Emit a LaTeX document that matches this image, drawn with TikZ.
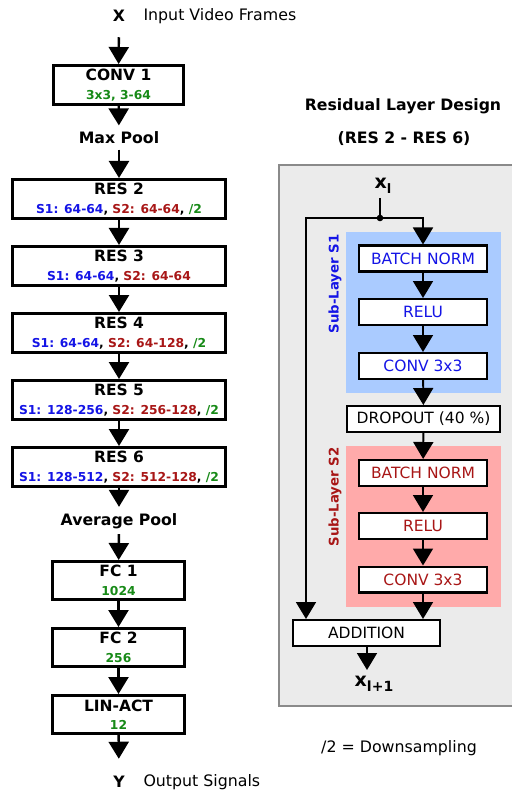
\documentclass[tikz,border=0pt]{standalone}
\usepackage{fontspec}
\setmainfont{DejaVu Sans}
\usetikzlibrary{arrows.meta}
\definecolor{tblue}{HTML}{1414E6}
\definecolor{tred}{HTML}{A81616}
\definecolor{tgreen}{HTML}{178A17}
\definecolor{bluebg}{HTML}{AACBFF}
\definecolor{redbg}{HTML}{FFAAAA}
\definecolor{graybg}{HTML}{EBEBEB}
\definecolor{grayline}{HTML}{8A8A8A}
\tikzset{
  bigbox/.style={draw=black, fill=white, line width=2.6pt, align=center, inner sep=0pt, font=\fontsize{14}{18.5}\selectfont},
  smallbox/.style={draw=black, fill=white, line width=2.4pt, minimum height=25.6pt, inner sep=0pt, font=\fontsize{15.5}{17}\selectfont},
  ttl/.style={font=\fontsize{15.7}{18}\selectfont\bfseries},
  plain/.style={font=\fontsize{15.8}{18}\selectfont},
  arr/.style={line width=2.4pt, -{Triangle[length=17pt,width=20pt]}},
  iarr/.style={line width=1.9pt, -{Triangle[length=17pt,width=20pt]}},
  iline/.style={line width=1.9pt},
}
\newcommand{\tl}[1]{{\fontsize{15.5}{18}\selectfont\bfseries #1}}
\newcommand{\sbl}[1]{{\fontsize{12.3}{14}\selectfont\bfseries #1}}
\begin{document}
\begin{tikzpicture}[x=1pt,y=-1pt]
\useasboundingbox (0,0) rectangle (511,791);
% ---------- left column ----------
\node[ttl] (X) at (119,16) {X};
\node[plain, anchor=west] (xin) at (140,16) {Input Video Frames};
\node[bigbox, minimum width=130.4pt, minimum height=39.4pt] (conv1) at (118.5,85)
  {\tl{CONV 1}\\\sbl{\color{tgreen}3x3, 3-64}};
\node[ttl] (maxp) at (119,138) {Max Pool};
\node[bigbox, minimum width=213.4pt, minimum height=39.4pt] (res2) at (119,199)
  {\tl{RES 2}\\\sbl{\color{tblue}S1: 64-64\color{black}, \color{tred}S2: 64-64\color{black}, \color{tgreen}/2}};
\node[bigbox, minimum width=213.4pt, minimum height=39.4pt] (res3) at (119,266)
  {\tl{RES 3}\\\sbl{\color{tblue}S1: 64-64\color{black}, \color{tred}S2: 64-64}};
\node[bigbox, minimum width=213.4pt, minimum height=39.4pt] (res4) at (119,333)
  {\tl{RES 4}\\\sbl{\color{tblue}S1: 64-64\color{black}, \color{tred}S2: 64-128\color{black}, \color{tgreen}/2}};
\node[bigbox, minimum width=213.4pt, minimum height=39.4pt] (res5) at (119,400)
  {\tl{RES 5}\\\sbl{\color{tblue}S1: 128-256\color{black}, \color{tred}S2: 256-128\color{black}, \color{tgreen}/2}};
\node[bigbox, minimum width=213.4pt, minimum height=39.4pt] (res6) at (119,467)
  {\tl{RES 6}\\\sbl{\color{tblue}S1: 128-512\color{black}, \color{tred}S2: 512-128\color{black}, \color{tgreen}/2}};
\node[ttl] (avgp) at (119,521) {Average Pool};
\node[bigbox, minimum width=132.4pt, minimum height=38.4pt] (fc1) at (118.5,580.5)
  {\tl{FC 1}\\\sbl{\color{tgreen}1024}};
\node[bigbox, minimum width=132.4pt, minimum height=38.4pt] (fc2) at (118.5,647.5)
  {\tl{FC 2}\\\sbl{\color{tgreen}256}};
\node[bigbox, minimum width=132.4pt, minimum height=38.4pt] (lin) at (118.5,714.5)
  {\tl{LIN-ACT}\\\sbl{\color{tgreen}12}};
\node[ttl] (Y) at (119,782) {Y};
\node[plain, anchor=west] (yout) at (140,782) {Output Signals};

\draw[arr, shorten <=12pt] (X) -- (conv1);
\draw[arr, shorten >=3pt] (conv1) -- (maxp);
\draw[arr, shorten <=2pt] (maxp) -- (res2);
\draw[arr] (res2) -- (res3);
\draw[arr] (res3) -- (res4);
\draw[arr] (res4) -- (res5);
\draw[arr] (res5) -- (res6);
\draw[arr, shorten >=3pt] (res6) -- (avgp);
\draw[arr, shorten <=2pt] (avgp) -- (fc1);
\draw[arr] (fc1) -- (fc2);
\draw[arr] (fc2) -- (lin);
\draw[arr, shorten >=14pt] (lin) -- (Y);

% ---------- right panel ----------
\node[ttl] (rtitle) at (403,106) {Residual Layer Design};
\node[ttl] (rsub) at (404,139) {(RES 2 - RES 6)};
\fill[graybg] (279,165) rectangle (520,706);
\draw[grayline, line width=2pt] (520,165) -- (279,165) -- (279,706) -- (520,706);
\fill[bluebg] (346,232) rectangle (501,393);
\fill[redbg] (346,446) rectangle (501,607);
\node[font=\fontsize{13.3}{15}\selectfont\bfseries, text=tblue, rotate=90] (s1lab) at (335,284) {Sub-Layer S1};
\node[font=\fontsize{13.3}{15}\selectfont\bfseries, text=tred, rotate=90] (s2lab) at (335,497) {Sub-Layer S2};

\node[font=\fontsize{19}{20}\selectfont\bfseries, inner sep=1pt] (xl) at (383,186) {x\raisebox{-4.5pt}{\fontsize{13}{14}\selectfont\bfseries l}};
\node[smallbox, minimum width=127.6pt, text=tblue] (bn1) at (423,258.5) {BATCH NORM};
\node[smallbox, minimum width=127.6pt, text=tblue] (relu1) at (423,312) {RELU};
\node[smallbox, minimum width=127.6pt, text=tblue] (cv1) at (423,366) {CONV 3x3};
\node[smallbox, minimum width=152.6pt] (drop) at (423.5,419) {DROPOUT (40 \%)};
\node[smallbox, minimum width=127.6pt, text=tred] (bn2) at (423,473) {BATCH NORM};
\node[smallbox, minimum width=127.6pt, text=tred] (relu2) at (423,526) {RELU};
\node[smallbox, minimum width=127.6pt, text=tred] (cv2) at (423,579.5) {CONV 3x3};
\node[smallbox, minimum width=146.6pt] (add) at (366.5,633) {ADDITION};
\node[font=\fontsize{19}{20}\selectfont\bfseries, inner sep=1pt] (xl1) at (374,684) {x\raisebox{-4.5pt}{\fontsize{14}{15}\selectfont\bfseries l+1}};
\node[plain] (down) at (399,748) {/2 = Downsampling};

\coordinate (dot) at (380,218);
\coordinate (tr) at (423,218);
\coordinate (tl) at (306,218);
\coordinate (addl) at (306,619);
\draw[iline] (380,198) -- (dot);
\draw[iarr] (dot) -- (tr) -- (bn1.north);
\draw[iarr] (dot) -- (tl) -- (addl);
\fill (dot) circle (3.3pt);
\draw[iarr] (bn1) -- (relu1);
\draw[iarr] (relu1) -- (cv1);
\draw[iarr] (cv1) -- (drop);
\draw[iarr] (drop) -- (bn2);
\draw[iarr] (bn2) -- (relu2);
\draw[iarr] (relu2) -- (cv2);
\draw[iarr] (cv2.south) -- (cv2.south |- add.north);
\coordinate (addout) at (367,647);
\draw[iarr] (addout) -- ++(0,23);
\end{tikzpicture}
\end{document}
